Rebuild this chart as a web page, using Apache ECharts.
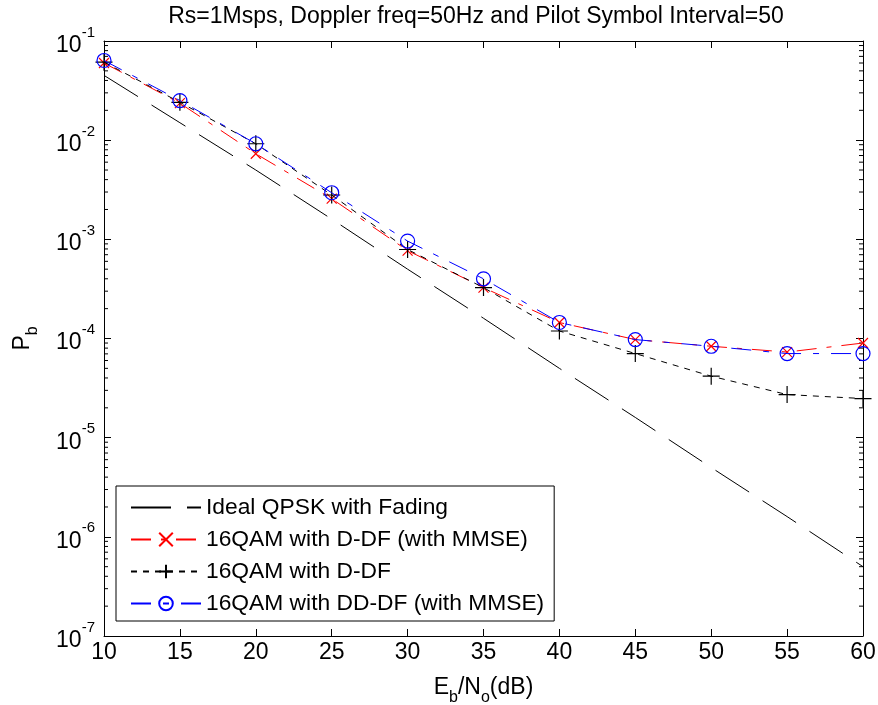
<!DOCTYPE html>
<html>
<head>
<meta charset="utf-8">
<script src="https://cdn.jsdelivr.net/npm/echarts@6/dist/echarts.min.js"></script>
<style>
html,body{margin:0;padding:0;background:#fff;}
#chart{width:878px;height:705px;}
</style>
</head>
<body>
<div id="chart"></div>
<script>
// ---- data ----
const snrDb = [10, 15, 20, 25, 30, 35, 40, 45, 50, 55, 60];
const idealQpsk = [0.045, 0.015, 0.005, 0.0016, 0.0005, 0.00016, 0.00005, 0.000016, 0.000005, 0.0000016, 0.0000005];
const qam16DdfMmse = [0.060, 0.0236, 0.0073, 0.00257, 0.00077, 0.000326, 0.000145, 0.0000975, 0.0000835, 0.000073, 0.00009];
const qam16Ddf = [0.0612, 0.0241, 0.0092, 0.0028, 0.00079, 0.000326, 0.000119, 0.0000705, 0.0000417, 0.0000272, 0.0000248];
const qam16DdDfMmse = [0.0636, 0.0251, 0.0092, 0.00295, 0.00096, 0.0004, 0.000145, 0.0000975, 0.0000835, 0.0000705, 0.0000705];
const seriesNames = ['Ideal QPSK with Fading', '16QAM with D-DF (with MMSE)', '16QAM with D-DF', '16QAM with DD-DF (with MMSE)'];
const xTicks = [10, 15, 20, 25, 30, 35, 40, 45, 50, 55, 60];
const titleText = 'Rs=1Msps, Doppler freq=50Hz and Pilot Symbol Interval=50';

const FONT = '"Liberation Sans", Arial, sans-serif';
const pairs = arr => snrDb.map((x, i) => [x, arr[i]]);

// minor tick values (2..9 within each decade)
const minorVals = [];
for (let d = -7; d < -1; d++) for (let m = 2; m <= 9; m++) minorVals.push([m * Math.pow(10, d)]);

const chart = echarts.init(document.getElementById('chart'), null, {renderer: 'canvas'});

const yLabelFmt = v => {
  const e = Math.round(Math.log10(v));
  return '{a|10}{b|' + e + '}';
};

const option = {
  backgroundColor: '#fff',
  animation: false,
  title: {
    text: titleText,
    left: 471, top: 0, textAlign: 'center',
    textStyle: {fontFamily: FONT, fontSize: 23, fontWeight: 'normal', color: '#000'}
  },
  grid: {left: 104, right: 15, top: 41, bottom: 69, containLabel: false, outerBoundsMode: 'none'},
  legend: {
    orient: 'vertical', left: 116, top: 486,
    backgroundColor: '#fff', borderColor: '#000', borderWidth: 1,
    padding: [10, 10, 6, 14], itemGap: 9,
    itemWidth: 70, itemHeight: 17,
    textStyle: {fontFamily: FONT, fontSize: 22.8, color: '#000'},
    data: [
      {name: seriesNames[0], itemStyle: {color: 'rgba(0,0,0,0)', borderColor: 'rgba(0,0,0,0)', borderWidth: 0}},
      {name: seriesNames[1]},
      {name: seriesNames[2]},
      {name: seriesNames[3]}
    ]
  },
  xAxis: [{
    type: 'value', min: 10, max: 60, interval: 5,
    axisLine: {lineStyle: {color: '#000', width: 1}},
    axisTick: {inside: true, length: 7, lineStyle: {color: '#000'}},
    axisLabel: {fontFamily: FONT, fontSize: 23, color: '#000', margin: 5,
      formatter: v => xTicks.includes(v) ? String(v) : ''},
    splitLine: {show: false},
    name: 'E{s|b}/N{s|o}(dB)', nameLocation: 'middle', nameGap: 34,
    nameTextStyle: {fontFamily: FONT, fontSize: 23, color: '#000',
      rich: {s: {fontFamily: FONT, fontSize: 16, verticalAlign: 'bottom', lineHeight: 36, color: '#000'}}}
  }, {
    type: 'value', min: 10, max: 60, interval: 5, position: 'top',
    axisLine: {lineStyle: {color: '#000', width: 1}},
    axisTick: {inside: true, length: 7, lineStyle: {color: '#000'}},
    axisLabel: {show: false}, splitLine: {show: false}
  }],
  yAxis: [{
    type: 'log', logBase: 10, min: 1e-7, max: 1e-1,
    axisLine: {show: true, lineStyle: {color: '#000', width: 1}},
    axisTick: {show: true, inside: true, length: 7, lineStyle: {color: '#000'}},
    axisLabel: {formatter: yLabelFmt, margin: 9,
      rich: {
        a: {fontFamily: FONT, fontSize: 23, color: '#000', verticalAlign: 'bottom', lineHeight: 32},
        b: {fontFamily: FONT, fontSize: 15, color: '#000', verticalAlign: 'top', lineHeight: 15}
      }},
    splitLine: {show: false},
    name: 'P{s|b}', nameLocation: 'middle', nameGap: 63,
    nameTextStyle: {fontFamily: FONT, fontSize: 23, color: '#000',
      rich: {s: {fontFamily: FONT, fontSize: 16, verticalAlign: 'bottom', lineHeight: 36, color: '#000'}}}
  }, {
    type: 'log', logBase: 10, min: 1e-7, max: 1e-1, position: 'right',
    axisLine: {show: true, lineStyle: {color: '#000', width: 1}},
    axisTick: {show: true, inside: true, length: 7, lineStyle: {color: '#000'}},
    axisLabel: {show: false}, splitLine: {show: false}
  }],
  series: [
    {
      name: seriesNames[0], type: 'line', data: pairs(idealQpsk),
      showSymbol: false, symbol: 'circle', symbolSize: 1,
      lineStyle: {color: '#000', width: 1, type: [40, 16]},
      itemStyle: {color: '#000'}, z: 2
    },
    {
      name: seriesNames[1], type: 'line', data: pairs(qam16DdfMmse),
      symbol: 'path://M0,0L10,10M10,0L0,10', symbolSize: 10, showAllSymbol: true,
      lineStyle: {color: '#ff0000', width: 1, type: [20, 10, 5, 10]},
      itemStyle: {color: 'rgba(0,0,0,0)', borderColor: '#ff0000', borderWidth: 1.2}, z: 3
    },
    {
      name: seriesNames[2], type: 'line', data: pairs(qam16Ddf),
      symbol: 'path://M5,0L5,10M0,5L10,5', symbolSize: 17, showAllSymbol: true,
      lineStyle: {color: '#000', width: 1, type: [6, 6]},
      itemStyle: {color: 'rgba(0,0,0,0)', borderColor: '#000', borderWidth: 1.2}, z: 4
    },
    {
      name: seriesNames[3], type: 'line', data: pairs(qam16DdDfMmse),
      symbol: 'circle', symbolSize: 14, showAllSymbol: true,
      lineStyle: {color: '#0000ff', width: 1, type: [20, 12, 6, 12]},
      itemStyle: {color: 'rgba(0,0,0,0)', borderColor: '#0000ff', borderWidth: 1.2}, z: 5
    },
    {
      type: 'custom', silent: true, z: 1,
      data: minorVals,
      renderItem: (params, api) => {
        const y = api.coord([10, api.value(0)])[1];
        const cs = params.coordSys;
        return {
          type: 'group',
          children: [
            {type: 'line', shape: {x1: cs.x, y1: y, x2: cs.x + 4, y2: y}, style: {stroke: '#000', lineWidth: 1}},
            {type: 'line', shape: {x1: cs.x + cs.width - 4, y1: y, x2: cs.x + cs.width, y2: y}, style: {stroke: '#000', lineWidth: 1}}
          ]
        };
      },
      encode: {y: 0}
    }
  ]
};
chart.setOption(option);
</script>
</body>
</html>
